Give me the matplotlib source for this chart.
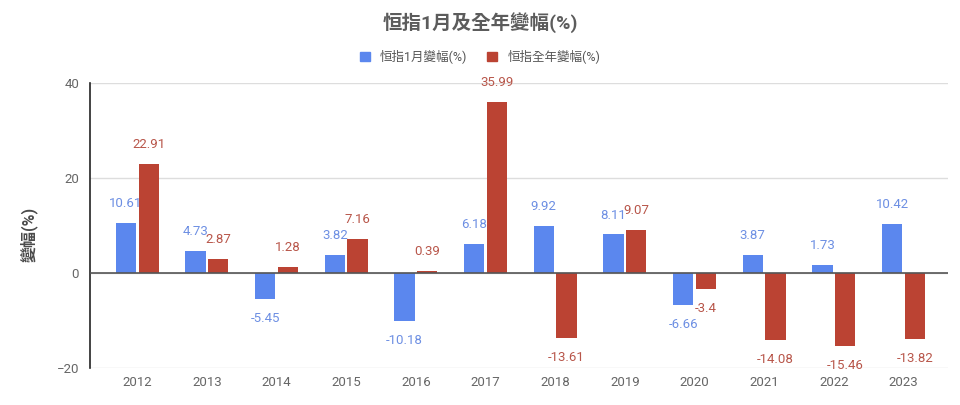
import numpy as np
import matplotlib.pyplot as plt
from matplotlib.patches import Patch

plt.rcParams['font.family'] = ['Roboto', 'Noto Sans CJK TC', 'DejaVu Sans']

years = ['2012', '2013', '2014', '2015', '2016', '2017',
         '2018', '2019', '2020', '2021', '2022', '2023']
jan_change = [10.61, 4.73, -5.45, 3.82, -10.18, 6.18, 9.92, 8.11, -6.66, 3.87, 1.73, 10.42]
year_change = [22.91, 2.87, 1.28, 7.16, 0.39, 35.99, -13.61, 9.07, -3.4, -14.08, -15.46, -13.82]

blue = '#5b87ee'
red = '#bb4333'
blue_txt = '#6d8fe3'
red_txt = '#b8564a'

fig = plt.figure(figsize=(9.6, 4.05), dpi=100)
ax = fig.add_axes([0.094, 0.0914, 0.8935, 0.7036])

x = np.arange(len(years))
w = 0.29
off = 0.163
b1 = ax.bar(x - off, jan_change, w, color=blue, zorder=3)
b2 = ax.bar(x + off, year_change, w, color=red, zorder=3)


def label_bars(bars, values, color):
    for rect, v in zip(bars, values):
        cx = rect.get_x() + rect.get_width() / 2
        dy = 14 if v >= 0 else -14
        ax.annotate(f'{v:g}', (cx, v), xytext=(0, dy), textcoords='offset points',
                    ha='center', va='center', fontsize=9.5, color=color, zorder=4)


label_bars(b1, jan_change, blue_txt)
label_bars(b2, year_change, red_txt)

ax.set_ylim(-20, 40)
ax.set_yticks([-20, 0, 20, 40])
ax.set_xlim(-0.675, 11.64)
ax.set_xticks(x)
ax.set_xticklabels(years)
ax.tick_params(length=0, colors='#666666', labelsize=9.5)
ax.tick_params(axis='y', pad=8)
ax.tick_params(axis='x', pad=6)

ax.grid(axis='y', color='#dddddd', linewidth=1, zorder=0)
ax.axhline(0, color='#555555', linewidth=1.2, zorder=3)
for s in ['top', 'right', 'bottom']:
    ax.spines[s].set_visible(False)
ax.spines['left'].set_color('#222222')
ax.spines['left'].set_linewidth(1.2)

ax.set_ylabel('變幅(%)', fontsize=11.5, fontweight='bold', color='#4a4a4a')
ax.yaxis.set_label_coords(-0.062, 0.47)

fig.text(0.5, 0.945, '恒指1月及全年變幅(%)', ha='center', va='center',
         fontsize=14, fontweight='bold', color='#5c5c5c')

handles = [Patch(color=blue), Patch(color=red)]
fig.legend(handles, ['恒指1月變幅(%)', '恒指全年變幅(%)'], loc='center',
           bbox_to_anchor=(0.5, 0.86), ncol=2, frameon=False, fontsize=9,
           labelcolor='#555555', handlelength=0.8, handleheight=0.8,
           columnspacing=1.6, handletextpad=0.8)

fig.savefig('out.png', dpi=100)
